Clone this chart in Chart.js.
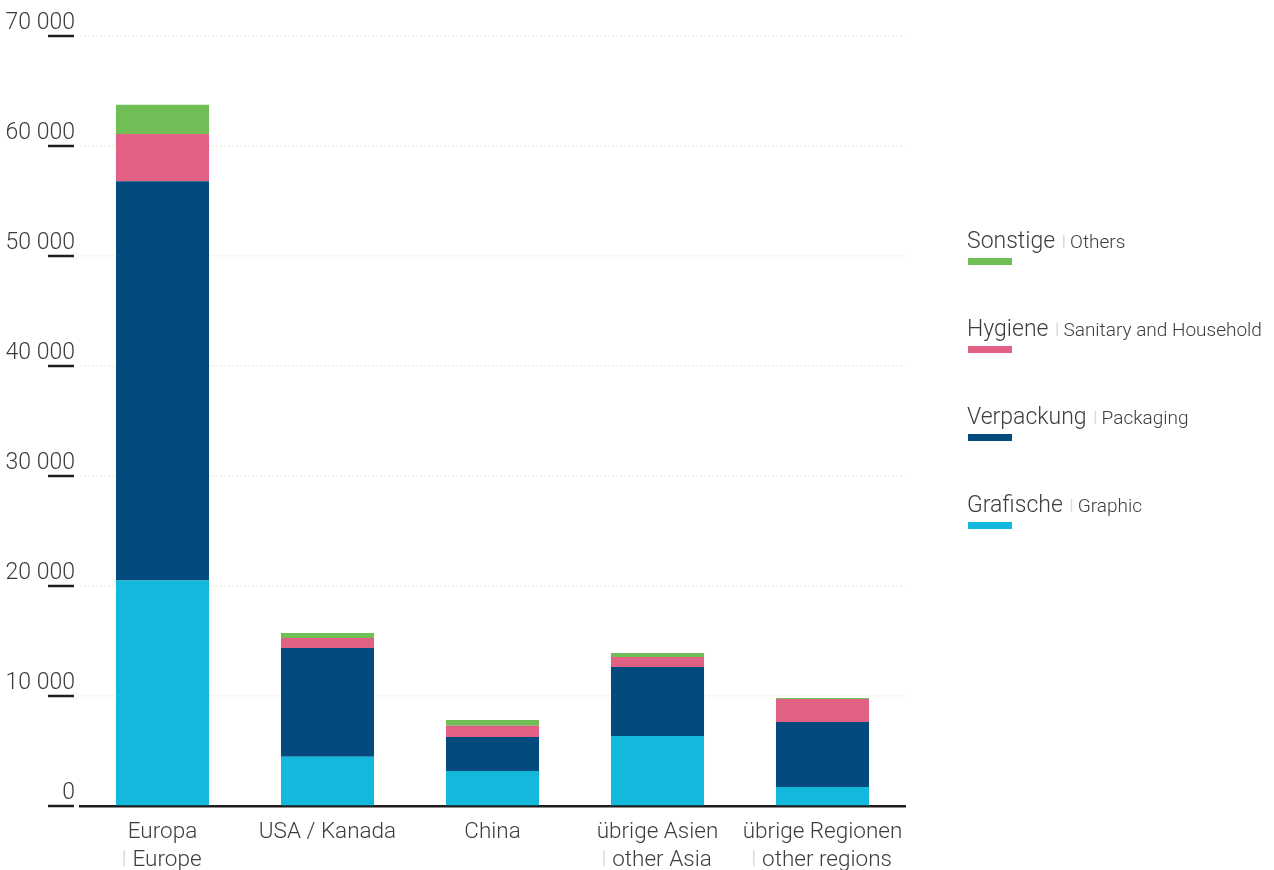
<!DOCTYPE html>
<html>
<head>
<meta charset="utf-8">
<script src="https://cdn.jsdelivr.net/npm/chart.js@4"></script>
<style>
  body { margin: 0; background: #fff; }
  #wrap { width: 1274px; height: 870px; }
</style>
</head>
<body>
<div id="wrap"><canvas id="chart" width="1274" height="870"></canvas></div>
<script>
// regions (German / English)
const regionsDe = ['Europa', 'USA / Kanada', 'China', 'übrige Asien', 'übrige Regionen'];
const regionsEn = ['Europe', '', '', 'other Asia', 'other regions'];

// series, bottom to top
const grafische = [20500, 4480, 3180, 6360, 1730];
const verpackung = [36300, 9880, 3090, 6280, 5910];
const hygiene = [4300, 910, 1030, 905, 2090];
const sonstige = [2650, 450, 520, 365, 90];

const seriesDe = ['Grafische', 'Verpackung', 'Hygiene', 'Sonstige'];
const seriesEn = ['Graphic', 'Packaging', 'Sanitary and Household', 'Others'];
const colors = ['#12b9dc', '#034b7e', '#e06183', '#70be55'];

const yMax = 70000;
const yStep = 10000;

const FONT = 'Roboto, "Noto Sans", sans-serif';
const TEXT = '#3d3d3d';
const PIPE = '#dcdcd2';

function fmt(v) {
    return String(v).replace(/\B(?=(\d{3})+(?!\d))/g, ' ');
}

// y labels sit above their grid line with a short underline
const yLabels = {
    id: 'yLabels',
    afterDraw(chart) {
        const ctx = chart.ctx;
        const y = chart.scales.y;
        ctx.save();
        y.ticks.forEach(t => {
            const py = Math.round(y.getPixelForValue(t.value));
            ctx.font = '300 23px ' + FONT;
            ctx.fillStyle = TEXT;
            ctx.textAlign = 'right';
            ctx.textBaseline = 'alphabetic';
            ctx.fillText(fmt(t.value), 75, py - 7);
            ctx.strokeStyle = '#1e1e1e';
            ctx.lineWidth = 2.5;
            ctx.beginPath();
            ctx.moveTo(48, py);
            ctx.lineTo(74, py);
            ctx.stroke();
        });
        ctx.restore();
    }
};

// two-line category labels with light separator
const xLabels = {
    id: 'xLabels',
    afterDraw(chart) {
        const ctx = chart.ctx;
        const x = chart.scales.x;
        ctx.save();
        ctx.font = '300 22.5px ' + FONT;
        ctx.textBaseline = 'alphabetic';
        regionsDe.forEach((name, i) => {
            const px = x.getPixelForValue(i);
            ctx.fillStyle = TEXT;
            ctx.textAlign = 'center';
            ctx.fillText(name, px, 838);
            const en = regionsEn[i];
            if (en) {
                const w = ctx.measureText(en).width;
                const total = w + 9;
                const left = px - total / 2;
                ctx.fillStyle = PIPE;
                ctx.fillRect(left, 850, 1.5, 16);
                ctx.fillStyle = TEXT;
                ctx.textAlign = 'left';
                ctx.fillText(en, left + 9, 866);
            }
        });
        ctx.restore();
    }
};

// legend on the right, top entry = top of stack
const sideLegend = {
    id: 'sideLegend',
    afterDraw(chart) {
        const ctx = chart.ctx;
        ctx.save();
        ctx.textBaseline = 'alphabetic';
        ctx.textAlign = 'left';
        const order = [3, 2, 1, 0];
        order.forEach((k, row) => {
            const top = 248 + row * 88;
            ctx.font = '300 23px ' + FONT;
            ctx.fillStyle = TEXT;
            ctx.fillText(seriesDe[k], 967, top);
            const w = ctx.measureText(seriesDe[k]).width;
            ctx.fillStyle = PIPE;
            ctx.fillRect(967 + w + 8, top - 13, 1.5, 13);
            ctx.font = '300 19px ' + FONT;
            ctx.fillStyle = TEXT;
            ctx.fillText(seriesEn[k], 967 + w + 15, top);
            ctx.fillStyle = colors[k];
            ctx.fillRect(968, top + 10, 44, 7);
        });
        ctx.restore();
    }
};

const series = [grafische, verpackung, hygiene, sonstige];

new Chart(document.getElementById('chart').getContext('2d'), {
    type: 'bar',
    data: {
        labels: regionsDe,
        datasets: series.map((d, k) => ({
            label: seriesDe[k],
            data: d,
            backgroundColor: colors[k],
            borderWidth: 0,
            categoryPercentage: 1,
            barPercentage: 0.564
        }))
    },
    options: {
        responsive: false,
        animation: false,
        layout: { padding: { top: 36, right: 369, left: 0, bottom: 0 } },
        plugins: {
            legend: { display: false },
            tooltip: { enabled: false }
        },
        scales: {
            x: {
                stacked: true,
                grid: { display: false, drawTicks: false },
                ticks: { display: false },
                border: { display: true, color: '#1e1e1e', width: 2.5 },
                afterFit: s => { s.height = 64; }
            },
            y: {
                stacked: true,
                min: 0,
                max: yMax,
                ticks: { display: false, stepSize: yStep },
                grid: { color: '#f1efdf', lineWidth: 1.5, drawTicks: false },
                border: { display: false, dash: [2, 2] },
                afterFit: s => { s.width = 80; }
            }
        }
    },
    plugins: [yLabels, xLabels, sideLegend]
});
</script>
</body>
</html>
